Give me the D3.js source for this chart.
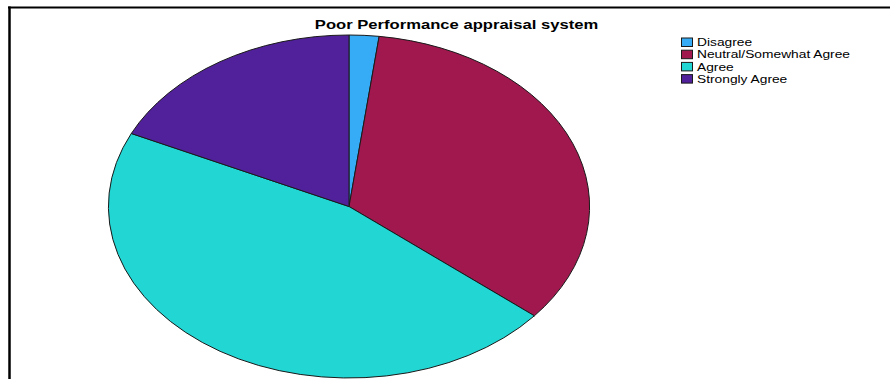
<!DOCTYPE html>
<html>
<head>
<meta charset="utf-8">
<script src="https://cdn.jsdelivr.net/npm/d3@7"></script>
<style>
  html, body { margin: 0; padding: 0; background: #fff; }
  svg { display: block; font-family: "Liberation Sans", Arial, sans-serif; }
</style>
</head>
<body>
<svg id="chart" width="890" height="379"></svg>
<script>
// Survey responses for "Poor Performance appraisal system"
const title = "Poor Performance appraisal system";
const categories = ["Disagree", "Neutral/Somewhat Agree", "Agree", "Strongly Agree"];
const counts = [2, 34, 46, 18];
const colors = ["#36acf7", "#a0184e", "#22d6d4", "#50219a"];

const W = 890, H = 379;
const svg = d3.select("#chart");

// Outer frame (top and left edges visible)
svg.append("line").attr("x1", 8).attr("x2", W).attr("y1", 7.5).attr("y2", 7.5)
  .attr("stroke", "#000").attr("stroke-width", 2);
svg.append("line").attr("x1", 9.5).attr("x2", 9.5).attr("y1", 6.5).attr("y2", H)
  .attr("stroke", "#000").attr("stroke-width", 2.5);

// Horizontal stretch used for the elliptical pie and text
const cx = 349, cy = 206.5, rx = 240.6, ry = 171.5;
const sxPie = rx / ry;

const color = d3.scaleOrdinal().domain(categories).range(colors);
const pie = d3.pie().sort(null).value(d => d.value);
const arc = d3.arc().innerRadius(0).outerRadius(ry);
const data = categories.map((c, i) => ({ name: c, value: counts[i] }));

const g = svg.append("g")
  .attr("transform", `translate(${cx},${cy}) scale(${sxPie},1)`);

g.selectAll("path.slice")
  .data(pie(data))
  .join("path")
  .attr("class", "slice")
  .attr("d", arc)
  .attr("fill", d => color(d.data.name))
  .attr("stroke", "#1a1a1a")
  .attr("stroke-width", 1)
  .attr("stroke-linejoin", "round")
  .attr("vector-effect", "non-scaling-stroke");

// Title
svg.append("text")
  .attr("transform", `translate(456.5,29) scale(1.385,1)`)
  .attr("text-anchor", "middle")
  .attr("font-size", 12)
  .attr("font-weight", "bold")
  .attr("fill", "#000")
  .text(title);

// Legend
const legend = svg.append("g").attr("transform", "translate(681,37.5)");
const rowH = 12.2;
const rows = legend.selectAll("g.row")
  .data(categories)
  .join("g")
  .attr("class", "row")
  .attr("transform", (d, i) => `translate(0,${i * rowH})`);

rows.append("rect")
  .attr("x", 0.5).attr("y", 0.5)
  .attr("width", 11).attr("height", 8.5)
  .attr("fill", d => color(d))
  .attr("stroke", "#1a1a1a").attr("stroke-width", 1);

rows.append("text")
  .attr("transform", "translate(16,8.6) scale(1.35,1)")
  .attr("font-size", 10.2)
  .attr("fill", "#000")
  .text(d => d);
</script>
</body>
</html>
